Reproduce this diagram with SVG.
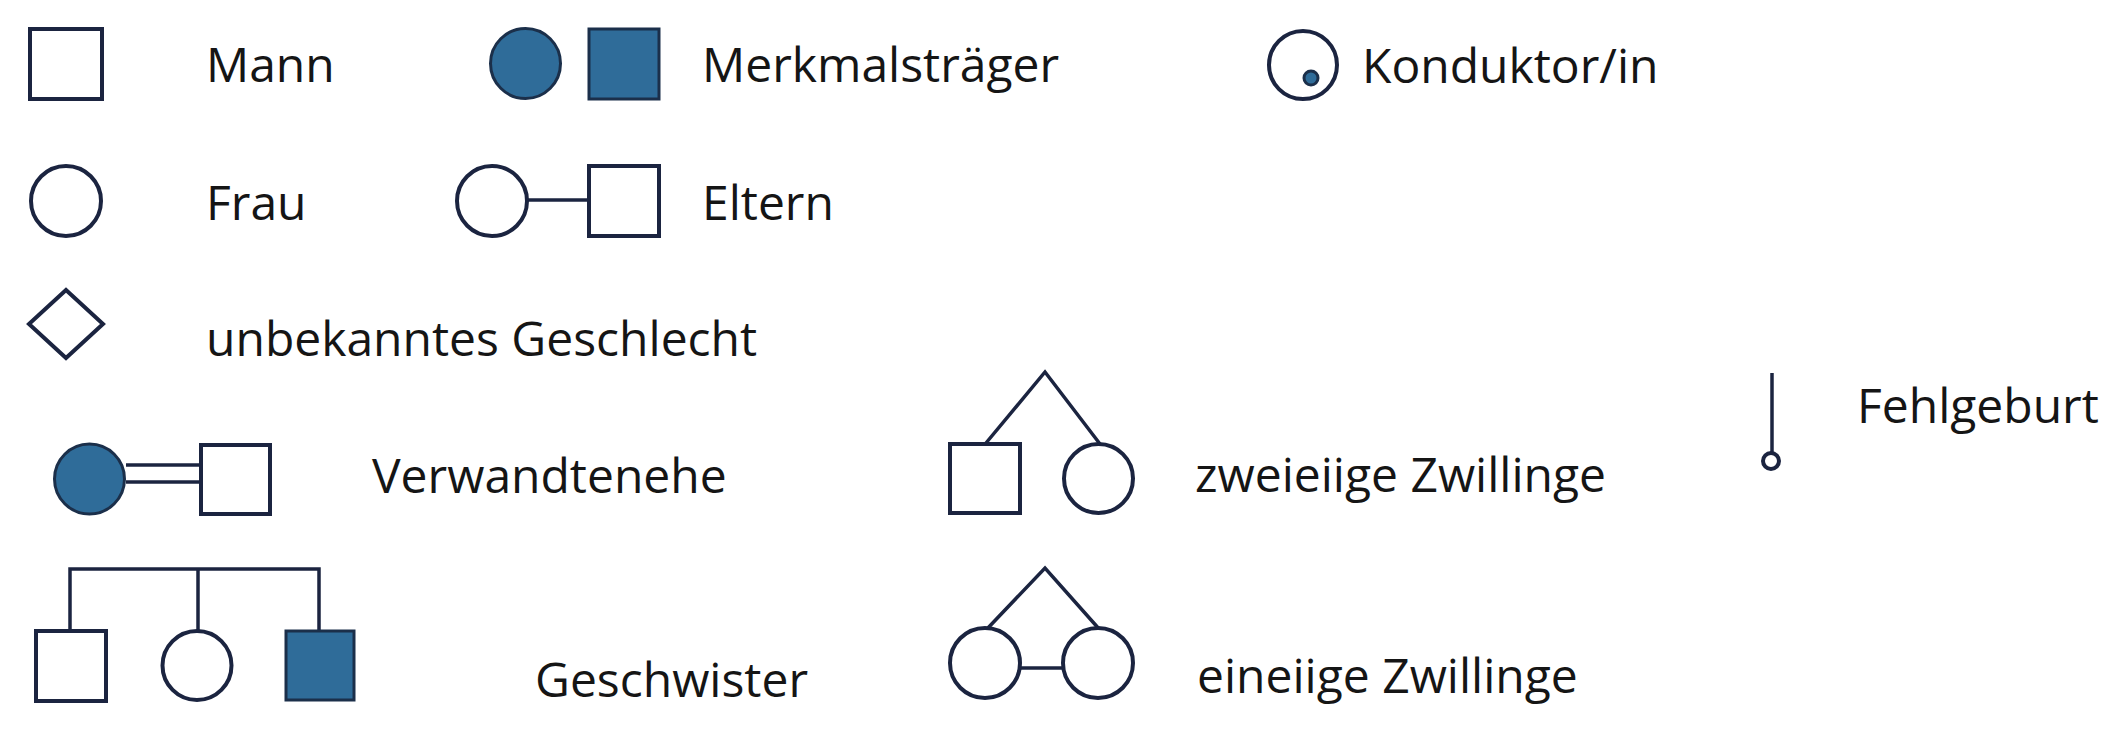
<svg xmlns="http://www.w3.org/2000/svg" width="2109" height="750" viewBox="0 0 2109 750">
<style>
.s{fill:#ffffff;stroke:#1b2440;stroke-width:4}
.f{fill:#2f6c99;stroke:#1b2f4a;stroke-width:3}
.c{fill:none;stroke:#1b2440;stroke-width:3.5}
.t{font-family:"Open Sans","Liberation Sans",sans-serif;font-size:48px;fill:#151515}
</style>
<rect width="2109" height="750" fill="#ffffff"/>
<g id="connectors">
<line class="c" x1="527" y1="200" x2="588" y2="200"/>
<line class="c" x1="126" y1="465" x2="200" y2="465"/>
<line class="c" x1="126" y1="482" x2="200" y2="482"/>
<polyline class="c" points="70,630 70,569 319,569 319,630"/>
<line class="c" x1="198" y1="569" x2="198" y2="630"/>
<polyline class="c" points="986,443 1045,372 1100,444"/>
<polyline class="c" points="986,630 1045,568 1100,630"/>
<line class="c" x1="1020" y1="668" x2="1063" y2="668"/>
<line class="c" x1="1772" y1="373" x2="1772" y2="453"/>
</g>
<g id="mann"><rect class="s" x="30" y="29" width="72" height="70"/><text class="t" x="206" y="82">Mann</text></g>
<g id="merkmalstraeger"><circle class="f" cx="525.5" cy="63.5" r="35"/><rect class="f" x="589" y="29" width="70" height="70"/><text class="t" x="702" y="82">Merkmalsträger</text></g>
<g id="konduktor"><circle class="s" cx="1303" cy="65" r="34"/><circle class="f" cx="1311" cy="78" r="7" stroke-width="2"/><text class="t" x="1362" y="83">Konduktor/in</text></g>
<g id="frau"><circle class="s" cx="66" cy="201" r="35"/><text class="t" x="206" y="220">Frau</text></g>
<g id="eltern"><circle class="s" cx="492" cy="201" r="35"/><rect class="s" x="589" y="166" width="70" height="70"/><text class="t" x="702" y="220">Eltern</text></g>
<g id="unbekannt"><polygon class="s" points="66,290 103,324 66,358 29,324"/><text class="t" x="206" y="356">unbekanntes Geschlecht</text></g>
<g id="verwandtenehe"><circle class="f" cx="89.5" cy="479" r="35"/><rect class="s" x="201" y="445" width="69" height="69"/><text class="t" x="372" y="493">Verwandtenehe</text></g>
<g id="geschwister"><rect class="s" x="36" y="631" width="70" height="70"/><circle class="s" cx="197" cy="665.5" r="34.5"/><rect class="f" x="286" y="631" width="68" height="69"/><text class="t" x="535" y="697">Geschwister</text></g>
<g id="zweieiige"><rect class="s" x="950" y="444" width="70" height="69"/><circle class="s" cx="1098.5" cy="478.5" r="34.5"/><text class="t" x="1195" y="492">zweieiige Zwillinge</text></g>
<g id="eineiige"><circle class="s" cx="985" cy="663" r="35"/><circle class="s" cx="1098" cy="663" r="35"/><text class="t" x="1197" y="693">eineiige Zwillinge</text></g>
<g id="fehlgeburt"><circle class="s" cx="1771" cy="461" r="8" stroke-width="3.5"/><text class="t" x="1857" y="423">Fehlgeburt</text></g>
</svg>
